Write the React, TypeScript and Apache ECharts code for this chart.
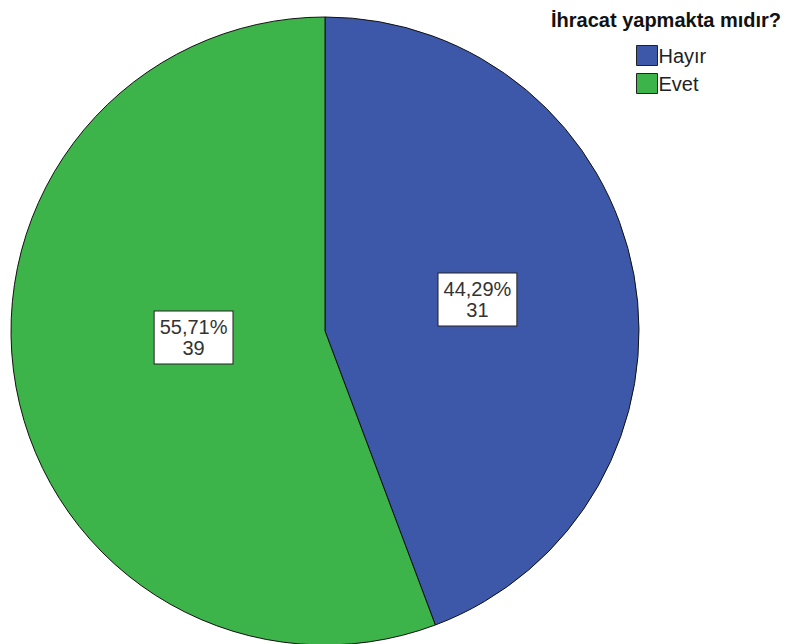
import React, { useEffect, useRef } from "react";
import * as echarts from "echarts";

const titleText = "İhracat yapmakta mıdır?";
const categories = ["Hayır", "Evet"];
const counts = [31, 39];
const colors = ["#3D58A8", "#3DB44A"];

export default function App() {
  const ref = useRef<HTMLDivElement>(null);
  useEffect(() => {
    if (!ref.current) return;
    const chart = echarts.init(ref.current, undefined, { renderer: "svg" });
    const total = counts.reduce((a, b) => a + b, 0);
    const labelShift = [
      { dx: -5, dy: -3 },
      { dx: 26, dy: -22 },
    ];
    chart.setOption({
      animation: false,
      backgroundColor: "#ffffff",
      title: {
        text: titleText,
        left: 546,
        top: 5,
        textStyle: {
          fontFamily: "Liberation Sans, Arial, sans-serif",
          fontSize: 20,
          fontWeight: "bold",
          color: "#111",
        },
      },
      legend: {
        orient: "vertical",
        left: 631,
        top: 40,
        itemWidth: 21,
        itemHeight: 20,
        itemGap: 7,
        icon: "rect",
        data: categories,
        textStyle: {
          fontFamily: "Liberation Sans, Arial, sans-serif",
          fontSize: 20,
          color: "#222",
          padding: [0, 0, 0, -4],
        },
        itemStyle: { borderColor: "#222", borderWidth: 1 },
      },
      series: [
        {
          type: "pie",
          center: [325, 331],
          radius: 314,
          startAngle: 90,
          clockwise: true,
          avoidLabelOverlap: false,
          data: categories.map((c, i) => ({
            name: c,
            value: counts[i],
            itemStyle: { color: colors[i] },
          })),
          itemStyle: { borderColor: "#111", borderWidth: 1 },
          label: {
            show: true,
            position: "inside",
            formatter: (p: any) =>
              ((p.value / total) * 100).toFixed(2).replace(".", ",") + "%\n" + p.value,
            fontFamily: "Liberation Sans, Arial, sans-serif",
            fontSize: 20,
            lineHeight: 21,
            color: "#333",
            backgroundColor: "#ffffff",
            borderColor: "#222",
            borderWidth: 1,
            padding: [5, 5, 5, 5],
            align: "center",
          },
          labelLine: { show: false },
          labelLayout: (params: any) => labelShift[params.dataIndex],
          emphasis: { disabled: true },
        },
      ],
    });
    return () => chart.dispose();
  }, []);
  return (
    <div
      ref={ref}
      style={{ position: "fixed", left: 0, top: 0, width: 797, height: 644 }}
    />
  );
}
